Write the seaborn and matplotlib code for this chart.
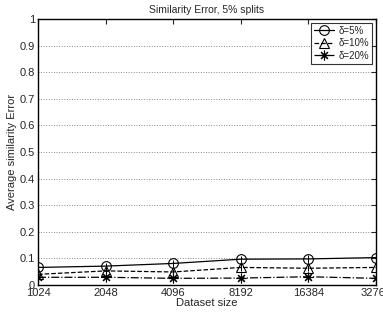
import numpy as np
import pandas as pd
import matplotlib
matplotlib.use('Agg')
import matplotlib.pyplot as plt
import seaborn as sns

sizes = ['1024', '2048', '4096', '8192', '16384', '32768']
err_5 = [0.066, 0.071, 0.081, 0.097, 0.098, 0.103]
err_10 = [0.040, 0.053, 0.049, 0.066, 0.063, 0.066]
err_20 = [0.029, 0.029, 0.025, 0.026, 0.031, 0.025]
# half-width of the small vertical bars through each point
spread_5 = [0.010, 0.012, 0.012, 0.012, 0.014, 0.012]
spread_10 = [0.010, 0.012, 0.012, 0.012, 0.012, 0.012]
spread_20 = [0.010, 0.012, 0.010, 0.010, 0.012, 0.010]
labels = ['\u03b4=5%', '\u03b4=10%', '\u03b4=20%']

sns.set_style('white')
plt.rcParams['font.family'] = ['Liberation Sans', 'DejaVu Sans']

df = pd.DataFrame({
    'size': sizes * 3,
    'error': err_5 + err_10 + err_20,
    'spread': spread_5 + spread_10 + spread_20,
    'delta': [labels[0]] * 6 + [labels[1]] * 6 + [labels[2]] * 6,
})

fig = plt.figure(figsize=(3.83, 3.14), dpi=100)
ax = fig.add_axes([0.0992, 0.0924, 0.8825, 0.847])

styles = {labels[0]: ('o', '-', 7), labels[1]: ('^', '--', 7), labels[2]: ((8, 2, 0), '-.', 7)}
for lab in labels:
    sub = df[df['delta'] == lab]
    m, ls, ms = styles[lab]
    sns.lineplot(data=sub, x='size', y='error', ax=ax, color='black', lw=0.9,
                 linestyle=ls, marker=m, markersize=ms,
                 markerfacecolor='none', markeredgecolor='black', markeredgewidth=0.8,
                 label=lab)
    ax.errorbar(np.arange(len(sub)), sub['error'], yerr=sub['spread'], fmt='none',
                ecolor='black', elinewidth=0.7, capsize=0)

ax.set_xlim(0, 5)
ax.set_ylim(0, 1)
ax.set_yticks(np.arange(0, 1.01, 0.1))
ax.set_yticklabels(['0'] + [f'{v:.1f}' for v in np.arange(0.1, 0.95, 0.1)] + ['1'])
ax.yaxis.grid(True, linestyle=':', color='#888888', lw=0.7)
ax.tick_params(direction='in', length=3.5, labelsize=8, top=True, right=True, pad=2)
for s in ax.spines.values():
    s.set_linewidth(1.0)
    s.set_color('black')

ax.set_xlabel('Dataset size', fontsize=8, labelpad=0)
ax.set_ylabel('Average similarity Error', fontsize=8, labelpad=2)
ax.set_title('Similarity Error, 5% splits', fontsize=7.5, pad=4)

leg = ax.legend(loc='upper right', fontsize=7, frameon=True, fancybox=False,
                edgecolor='black', handlelength=2, handletextpad=0.5,
                borderaxespad=0.4, labelspacing=0.25, borderpad=0.3)
leg.get_frame().set_linewidth(0.8)

fig.savefig('out.png', dpi=100)
